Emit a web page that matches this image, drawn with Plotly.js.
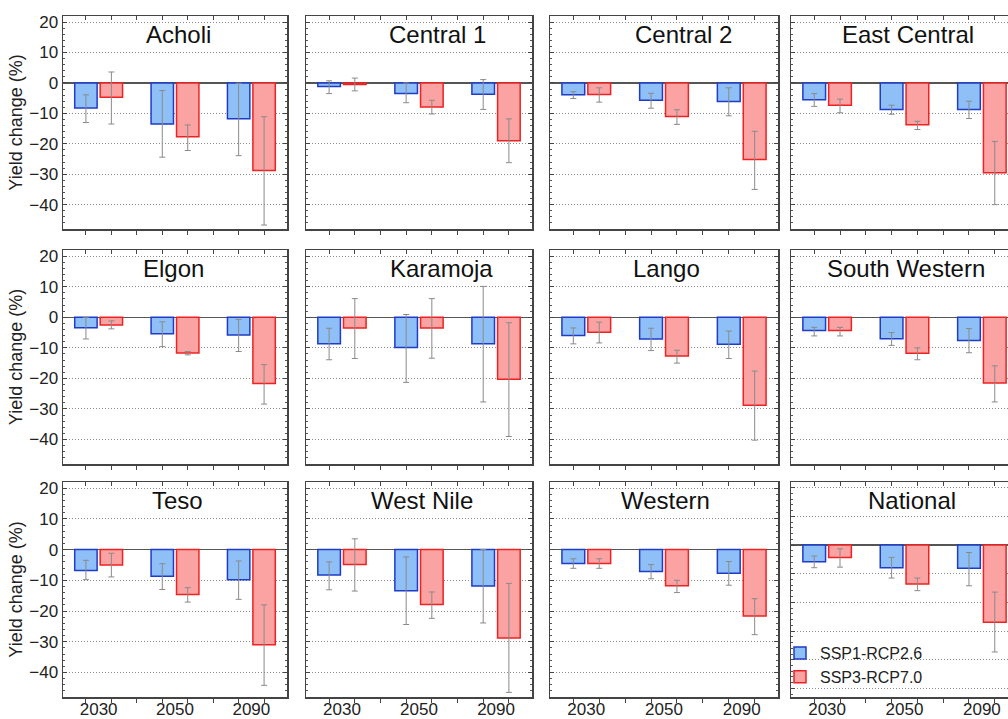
<!DOCTYPE html>
<html>
<head>
<meta charset="utf-8">
<script src="https://cdn.plot.ly/plotly-3.0.1.min.js"></script>
<style>
  html, body { margin: 0; padding: 0; overflow: hidden; background: #fff; }
  #chart { width: 1020px; height: 719px; }
</style>
</head>
<body>
<div id="chart"></div>
<script>
// ---------------- DATA ----------------
const years = ['2030', '2050', '2090'];
const regions = ['Acholi', 'Central 1', 'Central 2', 'East Central',
                 'Elgon', 'Karamoja', 'Lango', 'South Western',
                 'Teso', 'West Nile', 'Western', 'National'];
const scenarios = ['SSP1-RCP2.6', 'SSP3-RCP7.0'];

// Mean yield change (%) per region, per year
const ssp1Mean = [
  [-8.2, -13.5, -11.8], [-1.2, -3.5, -3.7], [-3.9, -5.7, -6.1], [-5.5, -8.7, -8.7],
  [-3.4, -5.4, -5.8],   [-8.7, -9.9, -8.7], [-6.0, -7.1, -8.8], [-4.3, -7.0, -7.6],
  [-6.8, -8.7, -9.8],   [-8.3, -13.4, -11.9], [-4.5, -7.1, -7.7], [-5.8, -7.9, -8.1]
];
const ssp1High = [
  [-3.9, -2.5, -0.1], [0.7, 0.0, 1.1],   [-2.9, -3.4, -1.6], [-3.5, -7.3, -6.0],
  [0.0, -1.5, -0.7],  [-3.6, 0.9, 10.1], [-3.5, -3.6, -4.5], [-3.3, -5.0, -3.7],
  [-3.5, -4.6, -3.7], [-4.0, -2.4, 0.0], [-3.0, -4.9, -3.9], [-3.8, -4.3, -2.6]
];
const ssp1Low = [
  [-13.0, -24.4, -23.9], [-3.5, -6.5, -8.7],    [-5.1, -8.3, -10.8], [-7.7, -10.3, -11.7],
  [-7.1, -9.6, -11.2],   [-13.9, -21.3, -27.7], [-8.7, -10.9, -13.5], [-6.1, -9.2, -11.6],
  [-9.8, -13.0, -16.2],  [-13.1, -24.4, -23.9], [-6.1, -9.5, -11.6], [-7.9, -11.5, -14.2]
];
const ssp3Mean = [
  [-4.7, -17.7, -28.8], [-0.5, -7.9, -19.0],  [-3.8, -11.0, -25.2], [-7.3, -13.7, -29.5],
  [-2.5, -11.7, -21.7], [-3.5, -3.5, -20.3],  [-4.9, -12.7, -28.8], [-4.3, -11.8, -21.5],
  [-5.0, -14.6, -31.0], [-4.9, -17.9, -28.8], [-4.5, -11.8, -21.6], [-4.3, -13.6, -26.9]
];
const ssp3High = [
  [3.6, -13.8, -11.1], [1.6, -5.7, -11.8],  [-1.6, -8.8, -15.9], [-5.3, -12.6, -19.2],
  [-1.2, -11.2, -15.5], [6.1, 6.1, -1.8],   [-1.6, -10.8, -17.6], [-3.3, -10.0, -15.9],
  [-1.2, -12.4, -18.0], [3.5, -13.8, -11.0], [-3.0, -10.0, -16.0], [-1.3, -11.5, -16.4]
];
const ssp3Low = [
  [-13.5, -22.2, -46.7], [-2.6, -10.2, -26.2], [-6.3, -13.6, -35.0], [-9.8, -15.3, -40.0],
  [-3.8, -12.3, -28.4],  [-13.5, -13.4, -39.0], [-8.4, -15.0, -40.2], [-6.1, -13.9, -27.7],
  [-8.9, -17.1, -44.2],  [-13.5, -22.4, -46.5], [-6.1, -14.0, -27.7], [-7.7, -15.9, -37.3]
];

// ---------------- LAYOUT CONSTANTS ----------------
const W = 1020, H = 719;
const FONT = 'Liberation Sans, Arial, Helvetica, sans-serif';
const colPx = [[63, 287], [306, 532], [550, 778], [791, 1018]];
const rowPx = [[16, 229], [250, 464], [482, 697]];
const titleCx = [178, 437, 683, 908, 173, 441, 666, 906, 177, 422, 665, 912];
const xRange = [0.1, 8.9];
const barW = 0.88;

const styles = [
  { fill: 'rgb(143,191,247)', line: '#1f3cc8' },
  { fill: 'rgb(251,163,163)', line: '#ee2222' }
];

const traces = [];
const layout = {
  width: W, height: H,
  margin: { l: 0, r: 0, t: 0, b: 0 },
  paper_bgcolor: '#fff', plot_bgcolor: '#fff',
  font: { family: FONT, color: '#222' },
  showlegend: true,
  legend: {
    x: 780 / W, y: 1 - 636 / H, xanchor: 'left', yanchor: 'top',
    bgcolor: 'rgba(0,0,0,0)', font: { size: 16, family: FONT, color: '#222' },
    tracegroupgap: 0, itemwidth: 30
  },
  annotations: [],
  bargap: 0
};

regions.forEach((name, k) => {
  const r = Math.floor(k / 4), c = k % 4;
  const xid = k === 0 ? 'x' : 'x' + (k + 1);
  const yid = k === 0 ? 'y' : 'y' + (k + 1);
  const xkey = k === 0 ? 'xaxis' : 'xaxis' + (k + 1);
  const ykey = k === 0 ? 'yaxis' : 'yaxis' + (k + 1);
  const topId = 'x' + (k + 13);
  const topKey = 'xaxis' + (k + 13);
  const isNat = name === 'National';
  const yRange = isNat ? [-53, 22] : [-48, 22];

  const series = [
    { mean: ssp1Mean[k], hi: ssp1High[k], lo: ssp1Low[k] },
    { mean: ssp3Mean[k], hi: ssp3High[k], lo: ssp3Low[k] }
  ];
  series.forEach((s, si) => {
    traces.push({
      type: 'bar',
      name: scenarios[si],
      legendgroup: scenarios[si],
      showlegend: k === 0,
      x: years.map((_, i) => 3 * i + 1 + si),
      y: s.mean,
      width: barW,
      xaxis: xid, yaxis: yid,
      marker: { color: styles[si].fill, line: { color: styles[si].line, width: 1.5 } },
      error_y: {
        type: 'data', symmetric: false,
        array: s.mean.map((m, i) => s.hi[i] - m),
        arrayminus: s.mean.map((m, i) => m - s.lo[i]),
        color: '#8a8a8a', thickness: 1, width: 3
      },
      hoverinfo: 'skip'
    });
  });
  // dummy trace so the top tick axis is drawn
  traces.push({ type: 'scatter', x: [], y: [], xaxis: topId, yaxis: yid, showlegend: false, hoverinfo: 'skip' });

  layout[xkey] = {
    domain: [colPx[c][0] / W, colPx[c][1] / W],
    anchor: yid,
    range: xRange,
    tickmode: 'array',
    tickvals: [1.5, 4.5, 7.5],
    ticktext: years,
    ticks: '',
    ticklabelstandoff: -4,
    showticklabels: r === 2,
    tickfont: { size: 17, family: FONT, color: '#222' },
    minor: { tickmode: 'linear', tick0: 0, dtick: 1, ticks: 'outside', ticklen: 4, tickcolor: '#444', tickwidth: 1 },
    showline: true, linecolor: '#444', linewidth: 1.5, mirror: true,
    showgrid: false, zeroline: false, fixedrange: true
  };
  layout[topKey] = {
    overlaying: xid, anchor: yid, side: 'top',
    range: xRange,
    tickmode: 'linear', tick0: 0, dtick: 1,
    ticks: 'inside', ticklen: 4, tickcolor: '#444', tickwidth: 1,
    showticklabels: false, showline: false, showgrid: false, zeroline: false, fixedrange: true
  };
  layout[ykey] = {
    domain: [1 - rowPx[r][1] / H, 1 - rowPx[r][0] / H],
    anchor: xid,
    range: yRange,
    tickmode: 'linear', tick0: 0, dtick: 10,
    ticks: 'inside', ticklen: 4, tickcolor: '#444', tickwidth: 1,
    minor: { tickmode: 'linear', tick0: 0, dtick: 2, ticks: 'inside', ticklen: 2, tickcolor: '#555', tickwidth: 1 },
    showticklabels: c === 0,
    tickfont: { size: 17, family: FONT, color: '#222' },
    showline: true, linecolor: '#444', linewidth: 1.5, mirror: 'ticks',
    showgrid: true, gridcolor: '#8a8a8a', gridwidth: 1, griddash: '1px,2px',
    zeroline: true, zerolinecolor: '#555', zerolinewidth: 1.5,
    fixedrange: true
  };
  if (c === 0) {
    layout[ykey].title = { text: 'Yield change (%)', font: { size: 18, family: FONT, color: '#222' }, standoff: 2 };
  }
  layout.annotations.push({
    text: name, xref: 'paper', yref: 'paper',
    x: titleCx[k] / W, y: 1 - rowPx[r][0] / H,
    xanchor: 'center', yanchor: 'top', yshift: -3,
    showarrow: false, font: { size: 24, family: FONT, color: '#111' }
  });
});

Plotly.newPlot('chart', traces, layout, { displayModeBar: false, staticPlot: true });
</script>
</body>
</html>
